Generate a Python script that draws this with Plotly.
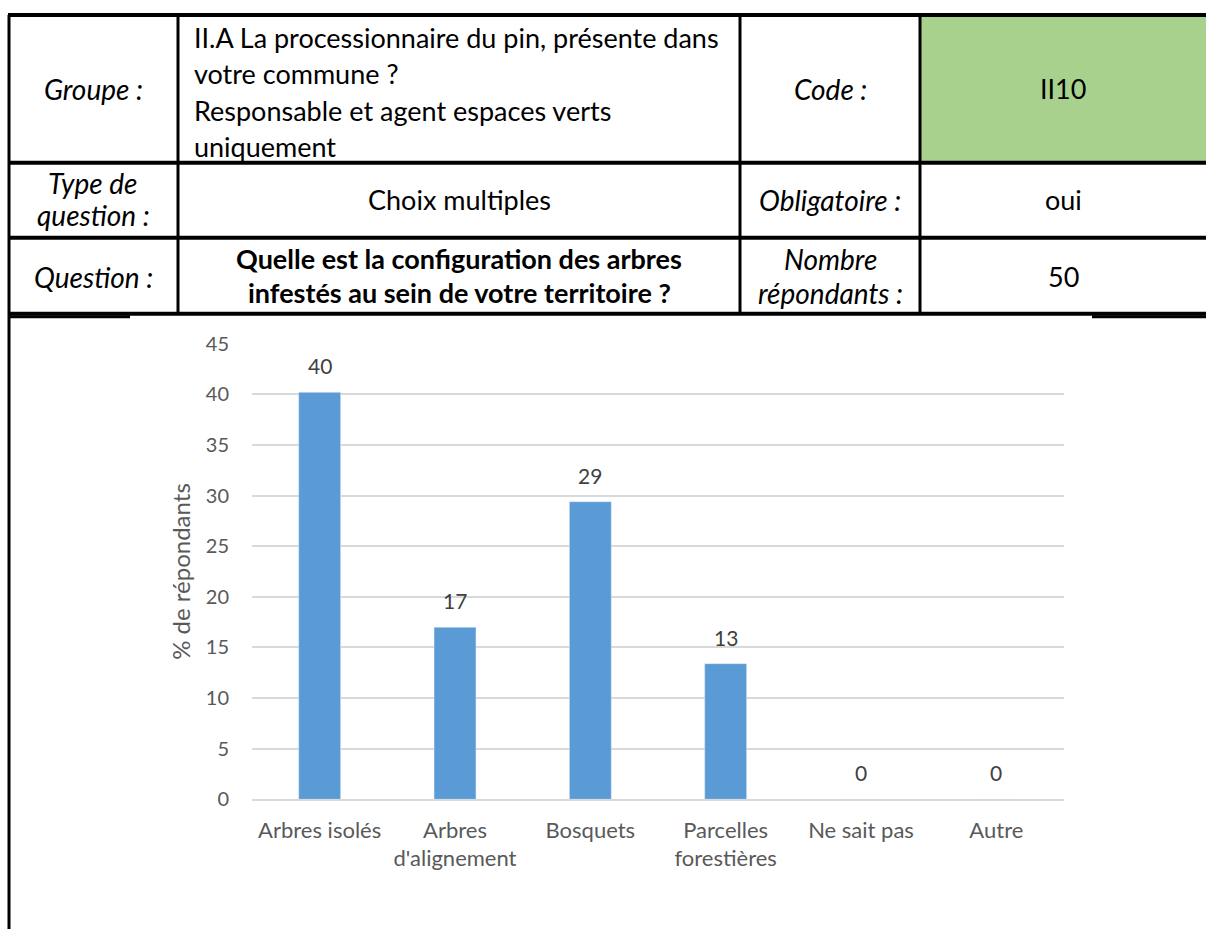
import plotly.graph_objects as go

W, H = 1206, 929

categories = ["Arbres isolés", "Arbres<br>d'alignement", "Bosquets",
              "Parcelles<br>forestières", "Ne sait pas", "Autre"]
pct_values = [40.2, 17.0, 29.4, 13.4, 0, 0]
y_ticks = [0, 5, 10, 15, 20, 25, 30, 35, 40, 45]

_FONT = "Lato"
_BAR = "#5B9BD5"
_GRID = "#D9D9D9"
_TXT = "#595959"

# the page gets shown a bit squeezed vertically (12px top pad, 0.975 scale),
# so positions taken from the reference picture are mapped back here
_TOP, _SY = 12, 0.975


def X(px):
    return px / W


def Y(py):
    return 1 - (py - _TOP) / _SY / H


fig = go.Figure(go.Bar(
    x=categories, y=pct_values,
    marker_color=_BAR,
    cliponaxis=False,
))

# value labels above the bars
for cat, val in zip(categories, pct_values):
    fig.add_annotation(x=cat, y=val, text=f"{val:.0f}", showarrow=False,
                       xref="x", yref="y", yanchor="bottom", yshift=12,
                       font=dict(family=_FONT, size=21, color="#404040"))

# table frame
shapes = [dict(type="rect", xref="paper", yref="paper",
               x0=X(920), x1=X(1206), y0=Y(14), y1=Y(162),
               fillcolor="#A9D18E", line_width=0, layer="below")]
for py in [14, 162, 237, 313]:
    shapes.append(dict(type="line", xref="paper", yref="paper",
                       x0=X(8), x1=X(1206), y0=Y(py), y1=Y(py),
                       line=dict(color="black", width=4)))
for x0, x1 in [(8, 130), (1092, 1206)]:
    shapes.append(dict(type="line", xref="paper", yref="paper",
                       x0=X(x0), x1=X(x1), y0=Y(316), y1=Y(316),
                       line=dict(color="black", width=3)))
for px in [178, 740, 920]:
    shapes.append(dict(type="line", xref="paper", yref="paper",
                       x0=X(px), x1=X(px), y0=Y(14), y1=Y(313),
                       line=dict(color="black", width=3)))
shapes.append(dict(type="line", xref="paper", yref="paper",
                   x0=X(9), x1=X(9), y0=Y(14), y1=Y(940),
                   line=dict(color="black", width=3)))


def note(txt, px, py, italic=False, bold=False, align="center", size=27):
    if bold:
        txt = f"<b>{txt}</b>"
    if italic:
        txt = f"<i>{txt}</i>"
    return dict(text=txt, xref="paper", yref="paper", x=X(px), y=Y(py),
                xanchor="left" if align == "left" else "center",
                yanchor="middle", align=align, showarrow=False,
                font=dict(family=_FONT, size=size, color="black"))


for a in [
    note("Groupe :", 93, 88, italic=True, size=28),
    note("II.A La processionnaire du pin, présente dans", 192, 37, align="left"),
    note("votre commune ?", 192, 73, align="left"),
    note("Responsable et agent espaces verts", 192, 110, align="left"),
    note("uniquement", 192, 146, align="left"),
    note("Code :", 830, 88, italic=True, size=28),
    note("II10", 1063, 88),
    note("Type de", 93, 182, italic=True, size=28),
    note("question :", 93, 214, italic=True, size=28),
    note("Choix multiples", 459, 199),
    note("Obligatoire :", 830, 199, italic=True, size=28),
    note("oui", 1063, 199),
    note("Question :", 93, 276, italic=True, size=28),
    note("Quelle est la configuration des arbres", 459, 258, bold=True),
    note("infestés au sein de votre territoire ?", 459, 292, bold=True),
    note("Nombre", 830, 258, italic=True, size=28),
    note("répondants :", 830, 292, italic=True, size=28),
    note("50", 1063, 276),
]:
    fig.add_annotation(**a)

fig.update_layout(
    width=W, height=H,
    margin=dict(l=0, r=0, t=0, b=0),
    paper_bgcolor="white", plot_bgcolor="white",
    showlegend=False, bargap=0.69,
    shapes=shapes,
    font=dict(family=_FONT, color=_TXT),
    xaxis=dict(domain=[X(252), X(1064)], showgrid=False, showline=True,
               linecolor=_GRID, linewidth=2, ticks="",
               ticklabelstandoff=10,
               tickfont=dict(size=22, color=_TXT)),
    yaxis=dict(domain=[Y(799), Y(343)], range=[0, 45], tickvals=y_ticks,
               showgrid=True, gridcolor=_GRID, gridwidth=1.5,
               zeroline=False, showline=False, ticks="",
               ticklabelstandoff=22,
               tickfont=dict(size=20, color=_TXT),
               title=dict(text="% de répondants", standoff=8,
                          font=dict(size=24, color=_TXT))),
)

fig.write_html(
    "out.html",
    config={"displayModeBar": False},
    post_script="document.body.style.margin='0';"
                "document.documentElement.style.overflow='hidden';",
)
